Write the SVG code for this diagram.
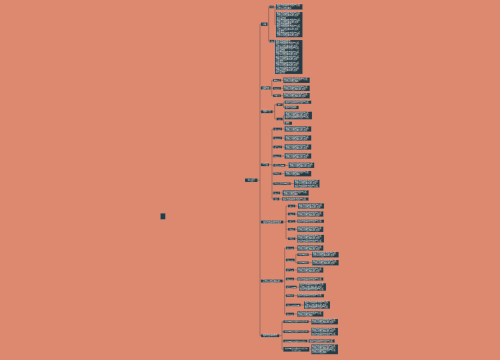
<svg xmlns="http://www.w3.org/2000/svg" width="500" height="360" viewBox="0 0 500 360">
<style>
.n{fill:#263b45;stroke:#7d8e92;stroke-width:.25}
.t{fill:#eef0ee;font-family:"Noto Sans CJK SC","Noto Sans",sans-serif;font-size:1.8px}
.s{fill:#eef0ee;font-family:"Noto Sans CJK SC","Noto Sans",sans-serif;font-size:1.5px;text-anchor:middle}
.m{text-anchor:middle}
.c{fill:none;stroke:#5d5652;stroke-width:.5}
</style>
<rect width="500" height="360" fill="#dd8970"/>
<g id="connectors" class="c">
<path d="M257.5 180.2H260M260 24.2V335.7M260 24.2H261M260 88H261M260 111.7H261M260 164.7H261M260 222H261M260 281H261M260 335.7H261"/>
<path d="M267.5 24.2H268.7M268.7 6.9V41.2M268.7 6.9H269.5M268.7 41.2H269.7M273.8 6.9H275M275 6.9V24.6M275 6.9H276M275 24.6H276M274.3 41.2H275"/>
<path d="M270.5 88H271.8M271.8 80.3V95.7M271.8 80.3H273M271.8 88.3H273M271.8 95.7H273M281 80.3H283.3M281 88.3H283.3M281 95.7H283.3"/>
<path d="M272.7 111.7H274.7M274.7 104.7V119M274.7 104.7H276.5M274.7 119H276.5M282.7 104.7H283.5M283.5 102.3V107.5M283.5 102.3H284.7M283.5 107.5H284.7M282.7 119H283.5M283.5 115.5V123.3M283.5 115.5H284.7M283.5 123.3H284.7"/>
<path d="M269 164.7H272M272 129V199M272 129H273.3M282 129H284.7M272 138H273.3M282 138H284.7M272 147H273.3M282 147H284.7M272 156H273.3M281.3 156H284.7M272 165.3H273.3M285.3 165.3H288.7M272 173.7H273.3M281.3 173.7H284.7M272 183.7H273.3M290.7 183.7H294M272 193H273.3M280 193H282.7M272 199H273.3M279.3 199H282"/>
<path d="M283.3 222H286M286 206V238.7M286 206H288M295.3 206H298M286 214H288M295.3 214H297.3M286 221.3H288M295.3 221.3H297.3M286 229.3H288M295.3 229.3H297.3M286 238.7H288M295.3 238.7H297.3"/>
<path d="M282.7 281H284.7M284.7 248V314M284.7 248H286M294 248H297.3M284.7 260H286M294.7 260H295.8M295.8 254.7V262.7M295.8 254.7H297.3M295.8 262.7H297.3M308.7 254.7H312M308.7 262.7H312.3M284.7 270H286M294 270H297.3M284.7 279H286M294 279H297.3M284.7 287H286M296.7 287H299.3M284.7 295.7H286M294 295.7H297.3M284.7 305H286M300.7 305H304M284.7 314H286M294 314H297.3"/>
<path d="M279.3 335.7H282M282 321.7V349.3M282 321.7H283.3M308.7 321.7H311.3M282 331.7H283.3M308.7 331.7H311.3M282 341H283.3M307.3 341H308.7M282 349.3H283.3M309.3 349.3H311.3"/>
</g>
<g id="root"><rect class="n" x="160.5" y="213.3" width="4.8" height="6"/></g>
<g id="center"><rect class="n" x="245" y="178.5" width="12.5" height="3.5"/><text class="t m" x="251.25" y="180.9">中心主题</text></g>
<g id="A"><rect class="n" x="261" y="22.5" width="6.5" height="3.5"/><text class="t m" x="264.25" y="24.85">分类</text></g>
<g id="A1"><rect class="n" x="269.5" y="5.6" width="4.3" height="2.6"/><text class="s" x="271.65" y="7.45">要点</text></g>
<g id="A1a"><rect class="n" x="276" y="4.2" width="26.5" height="5.4"/><text class="t" x="276.8" y="6.45">相关内容说明信息描述与分析</text><text class="t" x="276.8" y="8.65">具体情况结合实际</text></g>
<g id="A1b"><rect class="n" x="276" y="12" width="26.5" height="25.2"/>
<text class="t" x="276.8" y="14.25">相关内容说明信息描述与分析</text><text class="t" x="276.8" y="16.45">具体情况结合实际进行处理</text><text class="t" x="276.8" y="18.65">等方面内容</text><text class="t" x="276.8" y="20.85">相关内容说明信息描述与分析</text><text class="t" x="276.8" y="23.05">具体情况结合实际进行处理</text><text class="t" x="276.8" y="25.25">相关内容说明信息</text><text class="t" x="276.8" y="27.45">相关内容说明信息描述与分析</text><text class="t" x="276.8" y="29.65">具体情况结合实际进行处理</text><text class="t" x="276.8" y="31.85">以及其他</text><text class="t" x="276.8" y="34.05">相关内容说明信息描述与分析</text><text class="t" x="276.8" y="36.25">具体情况结合实际进行处理</text></g>
<g id="A2"><rect class="n" x="269.7" y="39.9" width="4.6" height="2.6"/><text class="s" x="272" y="41.75">说明</text></g>
<g id="A2a"><rect class="n" x="275" y="40" width="27.5" height="34"/>
<text class="t" x="275.8" y="42.25">相关内容说明信息</text><text class="t" x="275.8" y="44.45">相关内容说明信息描述与分析</text><text class="t" x="275.8" y="46.65">具体情况结合实际进行处理</text><text class="t" x="275.8" y="48.85">相关内容说明信息描述与分析</text><text class="t" x="275.8" y="51.05">等方面内容</text><text class="t" x="275.8" y="53.25">相关内容说明信息描述与分析</text><text class="t" x="275.8" y="55.45">具体情况结合实际进行处理</text><text class="t" x="275.8" y="57.65">相关内容说明信息描述与分析</text><text class="t" x="275.8" y="59.85">具体情况结合实际进行处理</text><text class="t" x="275.8" y="62.05">以及其他</text><text class="t" x="275.8" y="64.25">相关内容说明信息描述与分析</text><text class="t" x="275.8" y="66.45">具体情况结合实际进行处理</text><text class="t" x="275.8" y="68.65">相关内容说明信息描述与分析</text><text class="t" x="275.8" y="70.85">具体情况结合实际进行处理</text><text class="t" x="275.8" y="73.05">等方面内容</text></g>
<g id="B"><rect class="n" x="261" y="86.4" width="9.5" height="3.2"/><text class="t m" x="265.75" y="88.65">主要内容</text></g>
<g id="B1"><rect class="n" x="273" y="79" width="8" height="2.6"/><text class="s" x="277" y="80.85">基本要点</text></g>
<g id="B1a"><rect class="n" x="283.3" y="77.6" width="26.5" height="5.4"/><text class="t" x="284.1" y="79.85">相关内容说明信息描述与分析</text><text class="t" x="284.1" y="82.05">具体情况结合实际</text></g>
<g id="B2"><rect class="n" x="273" y="87" width="8" height="2.6"/><text class="s" x="277" y="88.85">主要方法</text></g>
<g id="B2a"><rect class="n" x="283.3" y="85.6" width="26.5" height="5.4"/><text class="t" x="284.1" y="87.85">相关内容说明信息描述与分析</text><text class="t" x="284.1" y="90.05">具体情况结合实际进行处理</text></g>
<g id="B3"><rect class="n" x="273" y="94.4" width="8" height="2.6"/><text class="s" x="277" y="96.25">注意事项</text></g>
<g id="B3a"><rect class="n" x="283.3" y="93" width="26.5" height="5.4"/><text class="t" x="284.1" y="95.25">相关内容说明信息描述与分析</text><text class="t" x="284.1" y="97.45">具体情况结合实际进行处理</text></g>
<g id="C"><rect class="n" x="261" y="110.3" width="11.7" height="2.8"/><text class="t m" x="266.85" y="112.35">相关介绍</text></g>
<g id="C1"><rect class="n" x="276.5" y="103.4" width="6.2" height="2.6"/><text class="s" x="279.6" y="105.25">原因</text></g>
<g id="C1a"><rect class="n" x="284.7" y="100.7" width="26.5" height="3.2"/><text class="t" x="285.5" y="102.95">相关内容说明信息描述与分析</text></g>
<g id="C1b"><rect class="n" x="284.7" y="105.9" width="14" height="3.2"/><text class="t" x="285.5" y="108.15">相关内容说明</text></g>
<g id="C2"><rect class="n" x="276.5" y="117.7" width="6.2" height="2.6"/><text class="s" x="279.6" y="119.55">方法</text></g>
<g id="C2a"><rect class="n" x="284.7" y="111.7" width="27.3" height="7.6"/><text class="t" x="285.5" y="113.95">相关内容说明信息描述与分析</text><text class="t" x="285.5" y="116.15">具体情况结合实际进行处理</text><text class="t" x="285.5" y="118.35">相关内容说明信息描述与分析</text></g>
<g id="C2b"><rect class="n" x="284.7" y="121.7" width="7.3" height="3.2"/><text class="t" x="285.5" y="123.95">其他</text></g>
<g id="D"><rect class="n" x="261" y="163.3" width="8" height="2.8"/><text class="t m" x="265" y="165.35">三方面</text></g>
<g id="D1"><rect class="n" x="273.3" y="127.7" width="8.7" height="2.6"/><text class="s" x="277.65" y="129.55">第一要点</text></g>
<g id="D1a"><rect class="n" x="284.7" y="126.3" width="26.5" height="5.4"/><text class="t" x="285.5" y="128.55">相关内容说明信息描述与分析</text><text class="t" x="285.5" y="130.75">具体情况结合实际进行处理</text></g>
<g id="D2"><rect class="n" x="273.3" y="136.7" width="8.7" height="2.6"/><text class="s" x="277.65" y="138.55">第二要点</text></g>
<g id="D2a"><rect class="n" x="284.7" y="135.3" width="26.5" height="5.4"/><text class="t" x="285.5" y="137.55">相关内容说明信息描述与分析</text><text class="t" x="285.5" y="139.75">具体情况结合实际进行处理</text></g>
<g id="D3"><rect class="n" x="273.3" y="145.7" width="8.7" height="2.6"/><text class="s" x="277.65" y="147.55">第三要点</text></g>
<g id="D3a"><rect class="n" x="284.7" y="144.3" width="26.5" height="5.4"/><text class="t" x="285.5" y="146.55">相关内容说明信息描述与分析</text><text class="t" x="285.5" y="148.75">具体情况结合实际进行处理</text></g>
<g id="D4"><rect class="n" x="273.3" y="154.7" width="8" height="2.6"/><text class="s" x="277.3" y="156.55">第四要点</text></g>
<g id="D4a"><rect class="n" x="284.7" y="153.3" width="26.5" height="5.4"/><text class="t" x="285.5" y="155.55">相关内容说明信息描述与分析</text><text class="t" x="285.5" y="157.75">具体情况结合实际进行处理</text></g>
<g id="D5"><rect class="n" x="273.3" y="164" width="12" height="2.6"/><text class="s" x="279.3" y="165.85">第五要点内容</text></g>
<g id="D5a"><rect class="n" x="288.7" y="162.6" width="25.5" height="5.4"/><text class="t" x="289.5" y="164.85">相关内容说明信息描述与分析</text><text class="t" x="289.5" y="167.05">具体情况结合实际进行处理</text></g>
<g id="D6"><rect class="n" x="273.3" y="172.4" width="8" height="2.6"/><text class="s" x="277.3" y="174.25">第六要点</text></g>
<g id="D6a"><rect class="n" x="284.7" y="171" width="26.5" height="5.4"/><text class="t" x="285.5" y="173.25">相关内容说明信息描述与分析</text><text class="t" x="285.5" y="175.45">具体情况结合实际</text></g>
<g id="D7"><rect class="n" x="273.3" y="182.4" width="17.4" height="2.6"/><text class="s" x="282" y="184.25">第七要点相关内容说明</text></g>
<g id="D7a"><rect class="n" x="294" y="179.9" width="25.5" height="7.6"/><text class="t" x="294.8" y="182.15">相关内容说明信息描述与分析</text><text class="t" x="294.8" y="184.35">具体情况结合实际进行处理</text><text class="t" x="294.8" y="186.55">相关内容说明信息描述与分析</text></g>
<g id="D8"><rect class="n" x="273.3" y="191.7" width="6.7" height="2.6"/><text class="s" x="276.65" y="193.55">第八点</text></g>
<g id="D8a"><rect class="n" x="282.7" y="190.3" width="26" height="5.4"/><text class="t" x="283.5" y="192.55">相关内容说明信息描述与分析</text><text class="t" x="283.5" y="194.75">具体情况结合实际</text></g>
<g id="D9"><rect class="n" x="273.3" y="197.7" width="6" height="2.6"/><text class="s" x="276.3" y="199.55">其他</text></g>
<g id="D9a"><rect class="n" x="282" y="197.4" width="26.5" height="3.2"/><text class="t" x="282.8" y="199.65">相关内容说明信息描述与分析</text></g>
<g id="E"><rect class="n" x="261" y="220.6" width="22.3" height="2.8"/><text class="t m" x="272.15" y="222.65">相关内容说明信息描述</text></g>
<g id="E1"><rect class="n" x="288" y="204.7" width="7.3" height="2.6"/><text class="s" x="291.65" y="206.55">第一点</text></g>
<g id="E1a"><rect class="n" x="298" y="203.3" width="26" height="5.4"/><text class="t" x="298.8" y="205.55">相关内容说明信息描述与分析</text><text class="t" x="298.8" y="207.75">具体情况结合实际进行处理</text></g>
<g id="E2"><rect class="n" x="288" y="212.7" width="7.3" height="2.6"/><text class="s" x="291.65" y="214.55">第二点</text></g>
<g id="E2a"><rect class="n" x="297.3" y="211.3" width="26" height="5.4"/><text class="t" x="298.1" y="213.55">相关内容说明信息描述与分析</text><text class="t" x="298.1" y="215.75">具体情况结合实际进行处理</text></g>
<g id="E3"><rect class="n" x="288" y="220" width="7.3" height="2.6"/><text class="s" x="291.65" y="221.85">第三点</text></g>
<g id="E3a"><rect class="n" x="297.3" y="219.7" width="26.7" height="3.2"/><text class="t" x="298.1" y="221.95">相关内容说明信息描述与分析</text></g>
<g id="E4"><rect class="n" x="288" y="228" width="7.3" height="2.6"/><text class="s" x="291.65" y="229.85">第四点</text></g>
<g id="E4a"><rect class="n" x="297.3" y="226.6" width="26" height="5.4"/><text class="t" x="298.1" y="228.85">相关内容说明信息描述与分析</text><text class="t" x="298.1" y="231.05">具体情况结合实际进行处理</text></g>
<g id="E5"><rect class="n" x="288" y="237.4" width="7.3" height="2.6"/><text class="s" x="291.65" y="239.25">第五点</text></g>
<g id="E5a"><rect class="n" x="297.3" y="234.9" width="26.7" height="7.6"/><text class="t" x="298.1" y="237.15">相关内容说明信息描述与分析</text><text class="t" x="298.1" y="239.35">具体情况结合实际进行处理</text><text class="t" x="298.1" y="241.55">相关内容说明信息描述与分析</text></g>
<g id="F"><rect class="n" x="261" y="279.6" width="21.7" height="2.8"/><text class="t m" x="271.85" y="281.65">具体情况结合实际进行</text></g>
<g id="F1"><rect class="n" x="286" y="246.7" width="8" height="2.6"/><text class="s" x="290" y="248.55">第一方面</text></g>
<g id="F1a"><rect class="n" x="297.3" y="245.3" width="26" height="5.4"/><text class="t" x="298.1" y="247.55">相关内容说明信息描述与分析</text><text class="t" x="298.1" y="249.75">具体情况结合实际进行处理</text></g>
<g id="F2"><rect class="n" x="286" y="258.7" width="8.7" height="2.6"/><text class="s" x="290.35" y="260.55">第二方面</text></g>
<g id="F2s1"><rect class="n" x="297.3" y="253.4" width="11.4" height="2.6"/><text class="s" x="303" y="255.25">相关内容说明</text></g>
<g id="F2s1a"><rect class="n" x="312" y="252" width="26.7" height="5.4"/><text class="t" x="312.8" y="254.25">相关内容说明信息描述与分析</text><text class="t" x="312.8" y="256.45">具体情况结合实际进行处理</text></g>
<g id="F2s2"><rect class="n" x="297.3" y="261.4" width="11.4" height="2.6"/><text class="s" x="303" y="263.25">相关内容说明</text></g>
<g id="F2s2a"><rect class="n" x="312.3" y="260" width="26.4" height="5.4"/><text class="t" x="313.1" y="262.25">相关内容说明信息描述与分析</text><text class="t" x="313.1" y="264.45">具体情况结合实际进行处理</text></g>
<g id="F3"><rect class="n" x="286" y="268.7" width="8" height="2.6"/><text class="s" x="290" y="270.55">第三方面</text></g>
<g id="F3a"><rect class="n" x="297.3" y="267.3" width="26" height="5.4"/><text class="t" x="298.1" y="269.55">相关内容说明信息描述与分析</text><text class="t" x="298.1" y="271.75">具体情况结合实际进行处理</text></g>
<g id="F4"><rect class="n" x="286" y="277.7" width="8" height="2.6"/><text class="s" x="290" y="279.55">第四方面</text></g>
<g id="F4a"><rect class="n" x="297.3" y="277.4" width="26" height="3.2"/><text class="t" x="298.1" y="279.65">相关内容说明信息描述与分析</text></g>
<g id="F5"><rect class="n" x="286" y="285.7" width="10.7" height="2.6"/><text class="s" x="291.35" y="287.55">第五方面内容</text></g>
<g id="F5a"><rect class="n" x="299.3" y="283.2" width="26.7" height="7.6"/><text class="t" x="300.1" y="285.45">相关内容说明信息描述与分析</text><text class="t" x="300.1" y="287.65">具体情况结合实际进行处理</text><text class="t" x="300.1" y="289.85">相关内容说明信息描述与分析</text></g>
<g id="F6"><rect class="n" x="286" y="294.4" width="8" height="2.6"/><text class="s" x="290" y="296.25">第六方面</text></g>
<g id="F6a"><rect class="n" x="297.3" y="294.1" width="26.7" height="3.2"/><text class="t" x="298.1" y="296.35">相关内容说明信息描述与分析</text></g>
<g id="F7"><rect class="n" x="286" y="303.7" width="14.7" height="2.6"/><text class="s" x="293.35" y="305.55">第七方面相关内容</text></g>
<g id="F7a"><rect class="n" x="304" y="301.2" width="26" height="7.6"/><text class="t" x="304.8" y="303.45">相关内容说明信息描述与分析</text><text class="t" x="304.8" y="305.65">具体情况结合实际进行处理</text><text class="t" x="304.8" y="307.85">相关内容说明信息描述与分析</text></g>
<g id="F8"><rect class="n" x="286" y="312.7" width="8" height="2.6"/><text class="s" x="290" y="314.55">第八方面</text></g>
<g id="F8a"><rect class="n" x="297.3" y="311.3" width="26" height="5.4"/><text class="t" x="298.1" y="313.55">相关内容说明信息描述与分析</text><text class="t" x="298.1" y="315.75">具体情况结合实际</text></g>
<g id="G"><rect class="n" x="261" y="334.3" width="18.3" height="2.8"/><text class="t m" x="270.15" y="336.35">相关内容说明信息</text></g>
<g id="G1"><rect class="n" x="283.3" y="320.4" width="25.4" height="2.6"/><text class="s" x="296" y="322.25">相关内容说明信息描述与分析具体</text></g>
<g id="G1a"><rect class="n" x="311.3" y="319" width="26.7" height="5.4"/><text class="t" x="312.1" y="321.25">相关内容说明信息描述与分析</text><text class="t" x="312.1" y="323.45">具体情况结合实际进行处理</text></g>
<g id="G2"><rect class="n" x="283.3" y="330.4" width="25.4" height="2.6"/><text class="s" x="296" y="332.25">相关内容说明信息描述与分析具体</text></g>
<g id="G2a"><rect class="n" x="311.3" y="327.9" width="26.7" height="7.6"/><text class="t" x="312.1" y="330.15">相关内容说明信息描述与分析</text><text class="t" x="312.1" y="332.35">具体情况结合实际进行处理</text><text class="t" x="312.1" y="334.55">相关内容说明信息描述与分析</text></g>
<g id="G3"><rect class="n" x="283.3" y="339.7" width="24" height="2.6"/><text class="s" x="295.3" y="341.55">相关内容说明信息描述与分析具</text></g>
<g id="G3a"><rect class="n" x="308.7" y="339.4" width="26" height="3.2"/><text class="t" x="309.5" y="341.65">相关内容说明信息描述与分析</text></g>
<g id="G4"><rect class="n" x="283.3" y="347" width="26" height="4.7"/><text class="s" x="296.3" y="348.9">相关内容说明信息描述与分析具体</text><text class="s" x="296.3" y="350.9">情况结合实际</text></g>
<g id="G4a"><rect class="n" x="311.3" y="344.4" width="26.7" height="9.8"/><text class="t" x="312.1" y="346.65">相关内容说明信息描述与分析</text><text class="t" x="312.1" y="348.85">具体情况结合实际进行处理</text><text class="t" x="312.1" y="351.05">相关内容说明信息描述与分析</text><text class="t" x="312.1" y="353.25">具体情况结合实际</text></g>
</svg>
